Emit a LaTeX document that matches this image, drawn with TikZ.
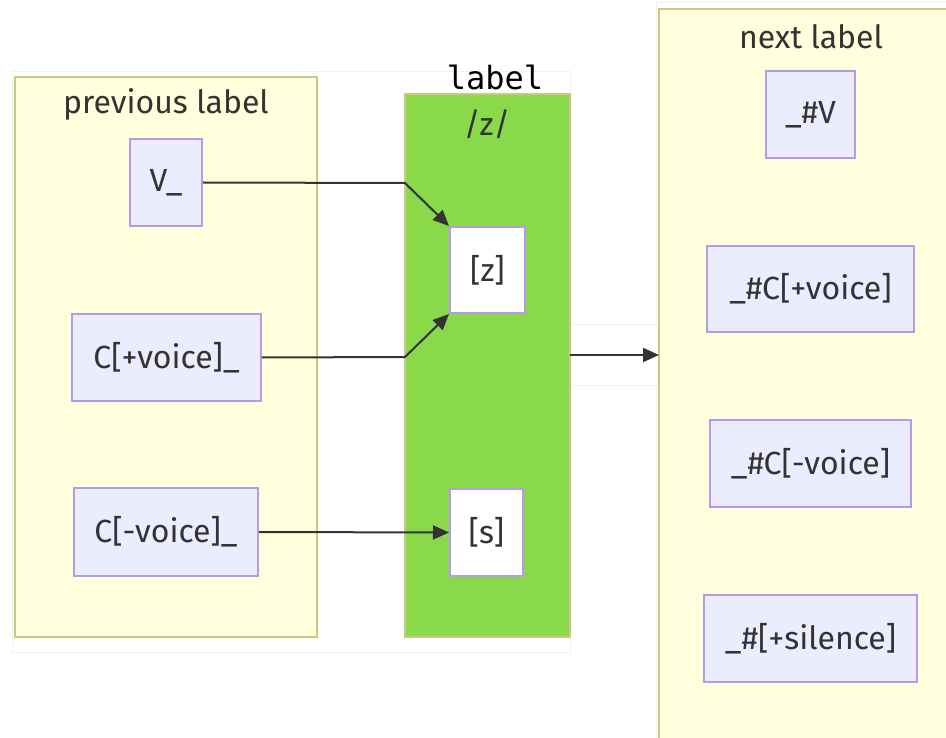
\documentclass[tikz,border=0pt]{standalone}
\usepackage{fontspec}
\setmainfont{Fira Sans}
\newfontfamily\monofont{DejaVu Sans Mono}
\usetikzlibrary{arrows.meta}
\definecolor{clfill}{HTML}{FFFFDE}
\definecolor{clborder}{HTML}{C9C980}
\definecolor{nodefill}{HTML}{ECECFF}
\definecolor{nodeborder}{HTML}{B49BE6}
\definecolor{greenfill}{HTML}{89D94B}
\definecolor{txt}{HTML}{333333}
\definecolor{faint}{HTML}{F2F2F2}
\tikzset{
  cluster/.style={draw=clborder, fill=clfill, line width=2pt},
  greencl/.style={draw=clborder, fill=greenfill, line width=2pt},
  bgpanel/.style={draw=faint, fill=white, line width=1pt},
  box/.style={draw=nodeborder, fill=nodefill, line width=2pt, text=txt, font=\fontsize{32}{36}\selectfont, inner sep=0pt},
  wbox/.style={box, fill=white},
  title/.style={text=txt, font=\fontsize{32}{36}\selectfont},
  conn/.style={draw=txt, line width=2pt, -{Triangle[length=16pt,width=14pt]}},
}
\begin{document}
\begin{tikzpicture}[x=1pt,y=-1pt]
\clip (0,0) rectangle (946,738);
\fill[white] (0,0) rectangle (946,738);
% faint backgrounds
\draw[bgpanel] (12,72) rectangle (570,652);
\draw[bgpanel] (656,3) rectangle (960,760);
\draw[bgpanel] (570,325) rectangle (658,385);
% clusters
\draw[cluster] (15,77) rectangle (317,637);
\node[title] (prevt) at (166,104) {previous label};
\draw[greencl] (405,94) rectangle (570,637);
\coordinate (gE) at (570,355);
\node[title] (zt) at (487,124) {/z/};
\node[font=\monofont\fontsize{32}{36}\selectfont, text=black] (lbl) at (495,77) {label};
\draw[cluster] (659,9) rectangle (980,780);
\coordinate (nW) at (659,355);
\node[title] (nextt) at (811,37) {next label};
% nodes
\node[box, minimum width=72pt, minimum height=87pt] (v) at (166,182.5) {V\_};
\node[box, minimum width=189pt, minimum height=87pt] (cpv) at (166.5,357.5) {C[+voice]\_};
\node[box, minimum width=184pt, minimum height=88pt] (cmv) at (166,532) {C[-voice]\_};
\node[wbox, minimum width=75pt, minimum height=86pt] (z) at (487.5,270) {[z]};
\node[wbox, minimum width=73pt, minimum height=87pt] (s) at (486.5,532.5) {[s]};
\node[box, minimum width=89pt, minimum height=87pt] (nv) at (810.5,114.5) {\_\#V};
\node[box, minimum width=207pt, minimum height=86pt] (npv) at (810.5,289) {\_\#C[+voice]};
\node[box, minimum width=201pt, minimum height=87pt] (nmv) at (810.5,463.5) {\_\#C[-voice]};
\node[box, minimum width=213pt, minimum height=87pt] (nsil) at (810.5,638.5) {\_\#[+silence]};
% connectors
\coordinate (b1) at (405,183);
\coordinate (b2) at (405,357);
\draw[conn] (v.east) -- (b1) -- (z.north west);
\draw[conn] (cpv.east) -- (b2) -- (z.south west);
\draw[conn] (cmv.east) -- (s.west);
\draw[conn] (gE) -- (nW);
\end{tikzpicture}
\end{document}
